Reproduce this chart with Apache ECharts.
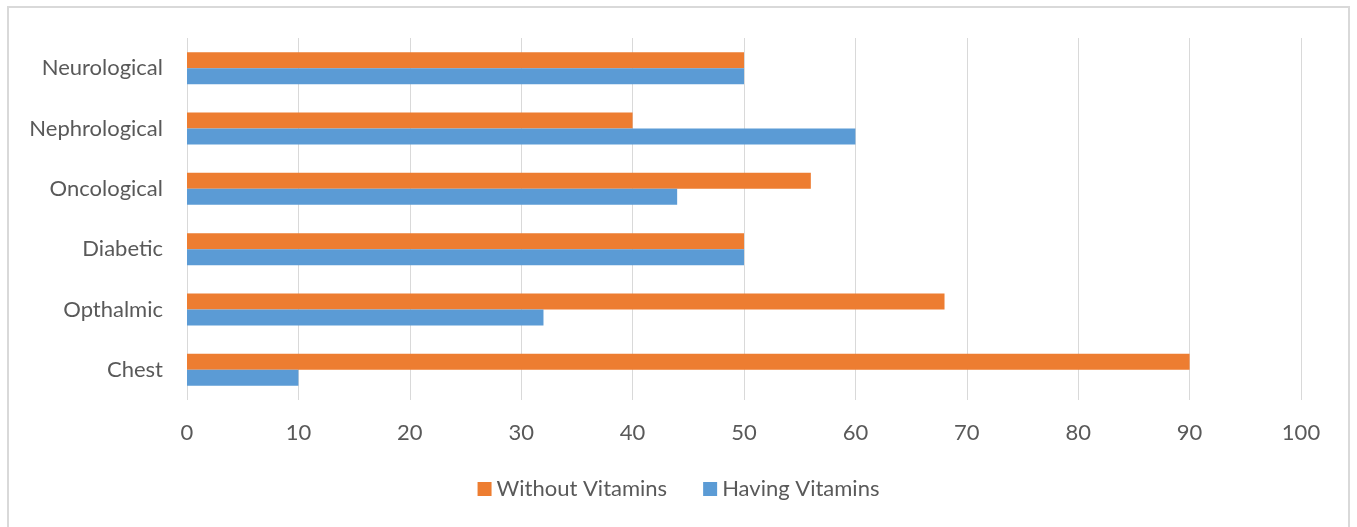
<!DOCTYPE html>
<html lang="en">
<head>
    <meta charset="UTF-8">
    <title>Vitamins bar chart</title>
    <script type="text/javascript" src="https://cdnjs.cloudflare.com/ajax/libs/echarts/6.0.0/echarts.min.js"></script>
    <style>
        html, body { margin: 0; padding: 0; background: #fff; }
        #frame { position: absolute; left: 7px; top: 6px; width: 1343px; height: 540px;
                 border: 2px solid #d9d9d9; box-sizing: border-box; }
        #main { position: absolute; left: 0; top: 0; width: 1357px; height: 527px; }
    </style>
</head>
<body>
    <div id="frame"></div>
    <div id="main"></div>

    <script type="text/javascript">
        // categories, bottom to top as echarts lays them out
        var categories = ['Chest', 'Opthalmic', 'Diabetic', 'Oncological', 'Nephrological', 'Neurological'];
        var withoutVitamins = [90, 68, 50, 56, 40, 50];
        var havingVitamins = [10, 32, 50, 44, 60, 50];
        var xTicks = [0, 100, 10];   // min, max, interval

        var font = 'Lato, "Open Sans", sans-serif';
        var myChart = echarts.init(document.getElementById('main'));

        myChart.setOption({
            animation: false,
            grid: { left: 187, right: 56, top: 38, bottom: 127, containLabel: false },
            legend: {
                bottom: 22,
                left: 'center',
                itemWidth: 14,
                itemHeight: 14,
                itemGap: 36,
                icon: 'rect',
                textStyle: { color: '#595959', fontSize: 22, fontFamily: font }
            },
            xAxis: {
                type: 'value',
                min: xTicks[0],
                max: xTicks[1],
                interval: xTicks[2],
                axisLine: { show: false },
                axisTick: { show: false },
                splitLine: { lineStyle: { color: '#d9d9d9', width: 1 } },
                axisLabel: { color: '#595959', fontSize: 22, fontFamily: font, margin: 22 }
            },
            yAxis: {
                type: 'category',
                data: categories,
                axisLine: { show: false },
                axisTick: { show: false },
                axisLabel: { color: '#595959', fontSize: 22, fontFamily: font, margin: 24 }
            },
            series: [
                {
                    name: 'Without Vitamins',
                    type: 'bar',
                    data: withoutVitamins,
                    itemStyle: { color: '#ED7D31' },
                    barWidth: 16,
                    barGap: '0%'
                },
                {
                    name: 'Having Vitamins',
                    type: 'bar',
                    data: havingVitamins,
                    itemStyle: { color: '#5B9BD5' },
                    barWidth: 16,
                    barGap: '0%'
                }
            ]
        });
    </script>
</body>
</html>
